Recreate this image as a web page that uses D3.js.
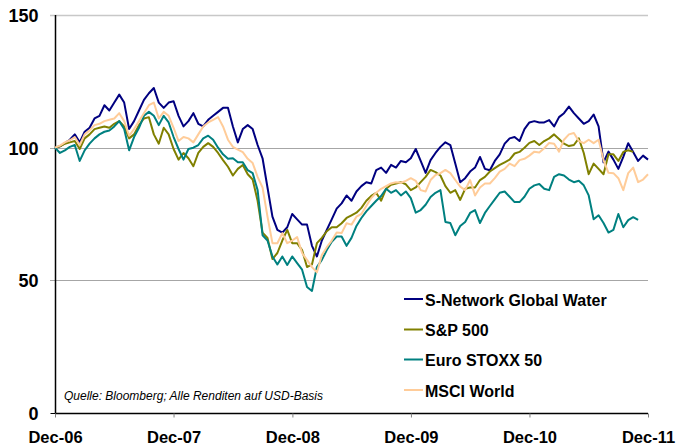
<!DOCTYPE html>
<html>
<head>
<meta charset="utf-8">
<script src="https://cdn.jsdelivr.net/npm/d3@7"></script>
<style>
  html, body { margin: 0; padding: 0; background: #fff; }
  svg { display: block; }
</style>
</head>
<body>
<svg id="chart" width="676" height="446"></svg>
<script>
// ---- Data (half-monthly observations, Dec 2006 = 100) ----
const seriesNames = ["S-Network Global Water", "S&P 500", "Euro STOXX 50", "MSCI World"];
const seriesColors = ["#000080", "#808000", "#008080", "#FFCC99"];
const xTickLabels = ["Dec-06", "Dec-07", "Dec-08", "Dec-09", "Dec-10", "Dec-11"];
const yTicks = [0, 50, 100, 150];

const sNetwork = [100,100.5,101.7,103,105,102,106,107.5,111,112,116,114,117,120,117,107,110,114,118,120.5,
  122.5,117,115,117,117.5,112,108,110,113,109,108,110.5,112,113.5,115,115,108,102,107,108.5,
  107,101,96,85,74,69,68,70,75,73,71,71,63,59,65,69,73,77,79,82,
  80,83.5,85.5,87,86.5,91.5,92.5,90.5,93.5,92.5,95,94.5,96,99.5,95,90.5,95.3,98,100.3,102,
  101,94,87,88.5,91,92.5,96.5,92,91.5,95,97.5,101.5,103.5,104,102.5,107,109.5,110,109.5,109.5,
  110.4,108,111.5,113,115.5,113,111,109,110,112.5,108,94.5,98.5,95.5,92,96.5,101.7,98.4,95,97,95.5];

const sp500 = [100,100.5,101.5,102,102.5,99.5,103.5,105,107,107.5,108,107.5,109,110,108,103.5,105,108.5,111,111.5,
  105,101.5,107.5,105,99.5,95.5,98,96,93,98,100.3,101.7,100.3,98,95.3,92.8,89.5,92,93.5,90,
  88,80,68,66,58,60.3,65,69,64,64,61.4,55,56,64,66,68.5,70,70,71.5,73.5,
  74.5,75.5,77.3,80,81.8,83,80,84.5,86,86.5,87,86.2,84,85,87,89,91.6,90.8,89.5,85.5,
  83,84,80.3,84.5,85,85,87.8,89,91,92.3,93.5,94.5,95.5,97.8,98.4,100,101.8,102.5,101,102.5,
  103.5,105,103.3,101.5,100.6,101,103.5,98,90,94,92,90,97.5,97.5,95,98.4,99,98.4,null,null,null];

const euroStoxx = [100,98,99,100.3,101,95,99,101.5,103.5,105,106,106.5,108,110,107,99,104,107.5,112,113.5,
  112,108.5,112,109.5,104,99.5,95.5,99.5,100,101,103.5,104.5,103,100,97.5,95.8,96,94.5,94.5,91.5,
  90.4,84,67,65,59,56,59,55.8,59,56.5,54,47.5,46,55,57.7,61.4,64.5,66.5,66.5,63,
  66,70.5,73.5,76,78,80,81.8,84.5,83,84,82,83.5,81,75.5,76.5,78.5,81.4,83,84,72,
  71.6,67,70.5,72,75.4,76.5,71.6,75.4,78,80.5,83,83.5,81.5,79.5,79.5,81.5,84.5,85.8,86.3,84.5,
  84,89,90,89.5,88,87,87.5,85.8,82,73,74.5,71.6,68,69,75,70,72.7,73.8,72.8,null,null];

const msciWorld = [100,100.8,102,102.8,104,101,105,106.5,108.5,109,110,110.5,111,113,110,104.5,107,110,113,116,
  117,111,113.5,112,107.5,102.5,104,103.5,102,105,108,109.5,110.5,111.5,108,103,100.3,99.3,98.3,95.8,
  94.2,89,85,74,64,64,67.8,64,65,66.3,60.3,57.7,55,53,59.5,62.5,65,68,67.8,71.5,
  71,74,75,78,81,83,84.5,85.5,86.5,87,86.8,87.5,88.5,87.5,84,83.5,87.8,89.7,90.4,91.6,
  90.4,87.8,85.3,84,87.8,82,85,86.5,86.5,88.5,91,92,94,93,95.3,95.8,97,98.5,98.2,99.8,
  101.8,101.5,98.5,103,105,105.5,102.5,101.7,103,101.7,103,95.3,90.5,90.4,88.5,84,90.4,92.5,87,88,90];

const seriesValues = [sNetwork, sp500, euroStoxx, msciWorld];

const sourceNote = "Quelle: Bloomberg; Alle Renditen auf USD-Basis";

// ---- Setup ----
const svg = d3.select("#chart");
const mLeft = 55, mRight = 648, mTop = 15, mBottom = 413;

const start = new Date(Date.UTC(2006, 11, 29));
const end = new Date(Date.UTC(2011, 11, 29));
const nSteps = sNetwork.length - 1;
const dates = d3.range(sNetwork.length).map(i => new Date(start.getTime() + (end - start) * i / nSteps));
const tickDates = xTickLabels.map((_, k) => new Date(Date.UTC(2006 + k, 11, 29)));

const x = d3.scaleUtc().domain([start, end]).range([mLeft, mRight]);
const y = d3.scaleLinear().domain([0, 150]).range([mBottom, mTop]);

const font = "'Liberation Sans', Arial, Helvetica, sans-serif";

// gridlines (with left tick extension)
svg.append("g").selectAll("line").data(yTicks.filter(d => d > 0)).join("line")
  .attr("x1", mLeft - 5).attr("x2", mRight)
  .attr("y1", d => Math.round(y(d)) + 0.5).attr("y2", d => Math.round(y(d)) + 0.5)
  .attr("stroke", d => d === 150 ? "#c8c8c8" : "#a6a6a6").attr("stroke-width", d => d === 150 ? 1.5 : 1);

// y axis
const yAxis = d3.axisLeft(y).tickValues(yTicks).tickSize(5).tickFormat(d3.format("d"));
const gy = svg.append("g").attr("transform", `translate(${mLeft + 0.5},0)`).call(yAxis);
gy.select(".domain").attr("stroke", "#000").attr("stroke-width", 1.5).attr("d", `M0,${mTop}V${mBottom}`);
gy.selectAll(".tick line").attr("stroke", d => d === 0 ? "#000" : "none");
gy.selectAll(".tick text")
  .attr("x", -17).attr("dy", "0.36em")
  .style("font-family", font).style("font-size", "18px").style("font-weight", "bold").attr("fill", "#000");

// x axis
const xAxis = d3.axisBottom(x).tickValues(tickDates).tickSize(4).tickFormat((d, i) => xTickLabels[i]);
const gx = svg.append("g").attr("transform", `translate(0,${mBottom + 0.5})`).call(xAxis);
gx.select(".domain").attr("stroke", "#000").attr("stroke-width", 1.5).attr("d", `M${mLeft},0H${mRight}`);
gx.selectAll(".tick line").attr("stroke", "#808080");
gx.selectAll(".tick text")
  .attr("y", 29).attr("dy", 0)
  .style("font-family", font).style("font-size", "16.5px").style("font-weight", "bold").attr("fill", "#000");

// lines
const line = d3.line()
  .defined(d => d.v != null)
  .x(d => x(d.date))
  .y(d => y(d.v));

const order = [0, 1, 2, 3];
svg.append("g").selectAll("path").data(order).join("path")
  .attr("fill", "none")
  .attr("stroke", k => seriesColors[k])
  .attr("stroke-width", 2)
  .attr("stroke-linejoin", "round")
  .attr("d", k => line(seriesValues[k].map((v, i) => ({ date: dates[i], v }))));

// legend
const legendRows = [297, 327.5, 357.5, 388];
const lg = svg.append("g");
seriesNames.forEach((name, k) => {
  lg.append("line").attr("x1", 404).attr("x2", 423)
    .attr("y1", legendRows[k] + 2).attr("y2", legendRows[k] + 2)
    .attr("stroke", seriesColors[k]).attr("stroke-width", 2);
  lg.append("text").attr("x", 425).attr("y", legendRows[k] + 8.5)
    .style("font-family", font).style("font-size", "16px").style("font-weight", "bold")
    .attr("fill", "#000").text(name);
});

// source note
svg.append("text").attr("x", 64).attr("y", 399.5)
  .style("font-family", font).style("font-size", "12px").style("font-style", "italic")
  .attr("fill", "#000").text(sourceNote);
</script>
</body>
</html>
